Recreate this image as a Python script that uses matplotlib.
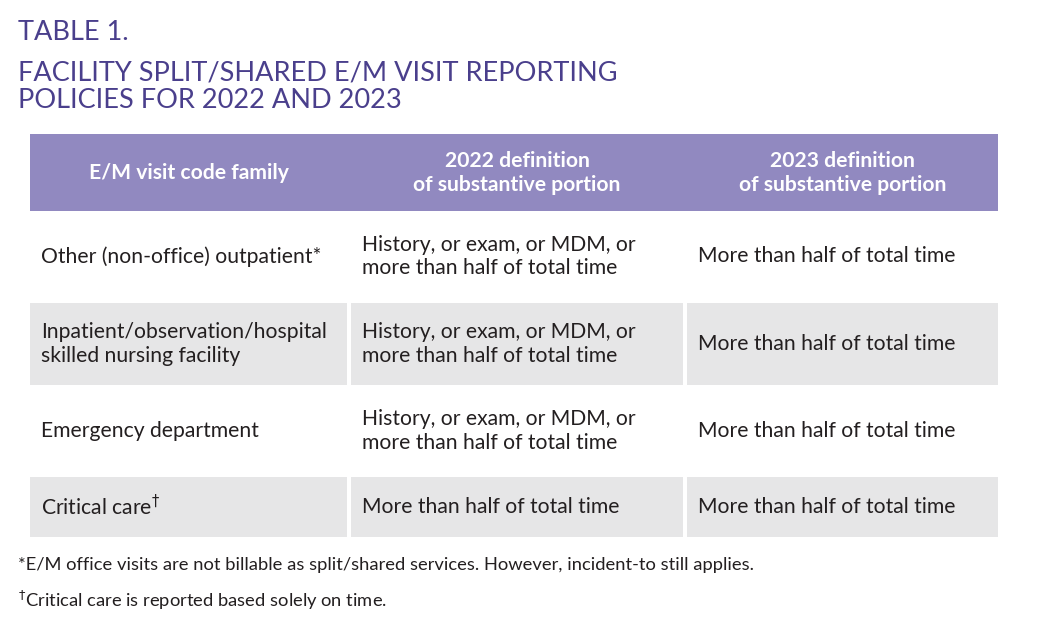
import matplotlib
matplotlib.use("Agg")
import matplotlib.pyplot as plt
from matplotlib.patches import Rectangle

plt.rcParams['font.family'] = ['Lato', 'DejaVu Sans']

title_lines = ["TABLE 1.", "FACILITY SPLIT/SHARED E/M VISIT REPORTING", "POLICIES FOR 2022 AND 2023"]
headers = ["E/M visit code family", "2022 definition\nof substantive portion", "2023 definition\nof substantive portion"]
col1 = ["Other (non-office) outpatient*", "Inpatient/observation/hospital\nskilled nursing facility",
        "Emergency department", "Critical care$^{\\dagger}$"]
col2 = ["History, or exam, or MDM, or\nmore than half of total time"] * 3 + ["More than half of total time"]
col3 = ["More than half of total time"] * 4
footnotes = ["*E/M office visits are not billable as split/shared services. However, incident-to still applies.",
             "$^{\\dagger}$Critical care is reported based solely on time."]

W, H = 1042, 641
fig = plt.figure(figsize=(W/100, H/100), dpi=100)
ax = fig.add_axes([0, 0, 1, 1])
ax.set_xlim(0, W); ax.set_ylim(H, 0); ax.axis('off')

purple = '#4a3f8c'
ax.text(18, 32, title_lines[0], color=purple, fontsize=19.5, va='center')
ax.text(18, 73, title_lines[1], color=purple, fontsize=19.5, va='center')
ax.text(18, 101, title_lines[2], color=purple, fontsize=19.5, va='center')

cols = [(30, 347), (351, 683), (687, 998)]
ax.add_patch(Rectangle((30, 134), 968, 77, color='#9189c0', lw=0))
for (x0, x1), h in zip(cols, headers):
    ax.text((x0+x1)/2, 173, h, ha='center', va='center', color='white',
            fontsize=15.2, fontweight='bold', linespacing=1.2)

rows = [(215, 298, 'white'), (303, 385, '#e6e6e7'), (389, 473, 'white'), (477, 537, '#e6e6e7')]
for i, (y0, y1, c) in enumerate(rows):
    for (x0, x1) in cols:
        ax.add_patch(Rectangle((x0, y0), x1-x0, y1-y0, color=c, lw=0))
    ym = (y0+y1)/2
    for (x0, x1), txt in zip(cols, [col1[i], col2[i], col3[i]]):
        ax.text(x0+11, ym, txt, ha='left', va='center', color='#231f20', fontsize=15.2, linespacing=1.2)

ax.text(18, 565, footnotes[0], color='#231f20', fontsize=13.2, va='center')
ax.text(18, 600, footnotes[1], color='#231f20', fontsize=13.2, va='center')

fig.savefig('out.png', dpi=100, facecolor='white')
